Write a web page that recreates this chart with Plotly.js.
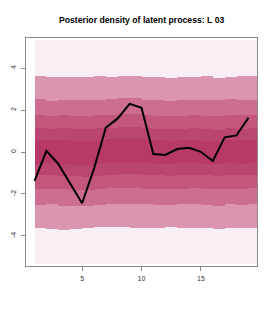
<!DOCTYPE html>
<html>
<head>
<meta charset="utf-8">
<script src="https://cdn.plot.ly/plotly-3.0.1.min.js"></script>
<style>html,body{margin:0;padding:0;background:#fff;}#chart{width:275px;height:314px;}</style>
</head>
<body>
<div id="chart"></div>
<script>
// Time index
var times = [1,2,3,4,5,6,7,8,9,10,11,12,13,14,15,16,17,18,19];
// Posterior mean of latent process
var latent = [-1.37,0.05,-0.57,-1.5,-2.44,-0.8,1.16,1.6,2.29,2.11,-0.1,-0.14,0.14,0.2,0.01,-0.43,0.7,0.79,1.63];

// Density band boundaries per time point (upper side)
var up1 = [3.62,3.55,3.57,3.58,3.55,3.60,3.58,3.62,3.63,3.58,3.55,3.52,3.56,3.58,3.60,3.53,3.57,3.62,3.60];
var up2 = [2.52,2.45,2.48,2.47,2.50,2.48,2.52,2.55,2.58,2.50,2.47,2.45,2.48,2.50,2.46,2.50,2.52,2.47,2.50];
var up3 = [1.76,1.72,1.74,1.73,1.70,1.75,1.78,1.80,1.82,1.76,1.72,1.70,1.73,1.75,1.72,1.70,1.76,1.74,1.76];
var up4 = [1.14,1.10,1.12,1.10,1.08,1.12,1.15,1.18,1.20,1.14,1.10,1.08,1.10,1.12,1.10,1.06,1.12,1.10,1.14];
var up5 = [0.57,0.55,0.55,0.52,0.50,0.55,0.60,0.62,0.65,0.58,0.55,0.52,0.55,0.56,0.54,0.50,0.56,0.55,0.58];
// Density band boundaries per time point (lower side)
var lo5 = [-0.55,-0.52,-0.56,-0.60,-0.62,-0.56,-0.52,-0.50,-0.48,-0.52,-0.55,-0.56,-0.54,-0.53,-0.55,-0.58,-0.54,-0.55,-0.52];
var lo4 = [-1.10,-1.08,-1.12,-1.15,-1.18,-1.12,-1.08,-1.06,-1.04,-1.08,-1.10,-1.12,-1.10,-1.08,-1.10,-1.14,-1.10,-1.10,-1.08];
var lo3 = [-1.76,-1.74,-1.78,-1.80,-1.82,-1.76,-1.72,-1.70,-1.70,-1.74,-1.75,-1.76,-1.74,-1.72,-1.75,-1.78,-1.74,-1.76,-1.72];
var lo2 = [-2.52,-2.50,-2.55,-2.56,-2.58,-2.52,-2.48,-2.46,-2.46,-2.50,-2.52,-2.52,-2.50,-2.48,-2.52,-2.55,-2.50,-2.52,-2.48];
var lo1 = [-3.62,-3.65,-3.71,-3.66,-3.62,-3.58,-3.57,-3.58,-3.60,-3.62,-3.60,-3.58,-3.60,-3.62,-3.64,-3.68,-3.62,-3.60,-3.62];
var densTop = 5.33, densBottom = -5.33;

var bandColors = ['#f9eef3','#da96b1','#cc6d91','#c2567d','#bb4572','#b6396a'];

var centers = times.map(function(t){return t + 0.5;});
function full(v){return times.map(function(){return v;});}
function band(lower, upper, color){
  return {
    type:'bar', x:centers, base:lower,
    y:upper.map(function(u,i){return u - lower[i];}),
    width:1, marker:{color:color, line:{width:0}},
    hoverinfo:'skip', showlegend:false
  };
}

var traces = [
  band(up1, full(densTop), bandColors[0]),
  band(up2, up1, bandColors[1]),
  band(up3, up2, bandColors[2]),
  band(up4, up3, bandColors[3]),
  band(up5, up4, bandColors[4]),
  band(lo5, up5, bandColors[5]),
  band(lo4, lo5, bandColors[4]),
  band(lo3, lo4, bandColors[3]),
  band(lo2, lo3, bandColors[2]),
  band(lo1, lo2, bandColors[1]),
  band(full(densBottom), lo1, bandColors[0]),
  {type:'scatter', mode:'lines', x:times, y:latent,
   line:{color:'#000', width:2}, showlegend:false, hoverinfo:'skip'}
];

var axisCommon = {
  showgrid:false, zeroline:false, showline:true, mirror:true,
  linecolor:'#8a8a8a', linewidth:1, ticks:'outside', ticklen:4,
  tickcolor:'#8a8a8a', tickwidth:1, ticklabelstandoff:2,
  tickfont:{family:'Liberation Sans, Arial, sans-serif', size:7, color:'#333'}
};

var layout = {
  width:275, height:314,
  margin:{l:26, r:18, t:38, b:48, pad:0},
  paper_bgcolor:'#fff', plot_bgcolor:'#fff',
  barmode:'overlay', bargap:0,
  title:{text:'<b>Posterior density of latent process: L 03</b>',
         font:{family:'Liberation Sans, Arial, sans-serif', size:8.7, color:'#000'},
         x:0.515, xanchor:'center', y:0.936, yanchor:'middle'},
  xaxis:Object.assign({}, axisCommon, {range:[0.28,19.72], tickvals:[5,10,15], ticktext:['5','10','15']}),
  yaxis:Object.assign({}, axisCommon, {range:[-5.43,5.43], tickvals:[-4,-2,0,2,4], ticktext:['-4','-2','0','2','4'], tickangle:-90})
};

Plotly.newPlot('chart', traces, layout, {staticPlot:true, displayModeBar:false});
</script>
</body>
</html>
